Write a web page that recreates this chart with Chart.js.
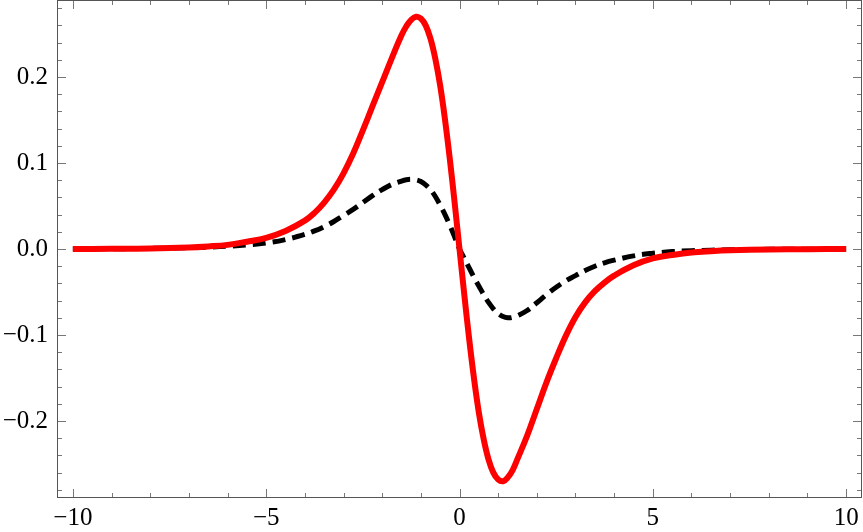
<!DOCTYPE html>
<html>
<head>
<meta charset="utf-8">
<script src="https://cdn.jsdelivr.net/npm/chart.js@4/dist/chart.umd.min.js"></script>
<style>
  html, body { margin: 0; padding: 0; background: #ffffff; }
  #wrap { width: 863px; height: 532px; }
</style>
</head>
<body>
<div id="wrap"><canvas id="c" width="863" height="532"></canvas></div>
<script>
// ---- data ----
const xValues = [-10,-9,-8,-7,-6.5,-6,-5.5,-5,-4.5,-4,
  -3.75,-3.5,-3.25,-3,-2.75,-2.5,-2.25,-2,-1.75,
  -1.5,-1.375,-1.25,-1.125,-1,-0.875,-0.75,-0.625,-0.5,-0.375,-0.25,-0.125,
  0,
  0.125,0.25,0.375,0.5,0.625,0.75,0.875,1,1.125,1.25,1.375,1.5,
  1.75,2,2.25,2.5,2.75,3,3.25,3.5,3.75,
  4,4.5,5,5.5,6,6.5,7,8,9,10];
const redValues = [0.0001,0.0002,0.0006,0.0018,0.003,0.0048,0.0085,0.013,0.021,0.033,
  0.042,0.054,0.069,0.088,0.111,0.138,0.166,0.194,0.222,
  0.2485,0.259,0.2665,0.270,0.268,0.260,0.2445,0.221,0.19,0.1505,0.1045,0.0535,
  0,
  -0.0535,-0.1045,-0.1505,-0.19,-0.221,-0.2445,-0.26,-0.268,-0.270,-0.2655,-0.257,-0.244,
  -0.217,-0.186,-0.155,-0.127,-0.101,-0.079,-0.062,-0.049,-0.039,
  -0.031,-0.019,-0.011,-0.007,-0.004,-0.0025,-0.0015,-0.0005,-0.0002,-0.0001];
const blackValues = [0.0001,0.0003,0.0007,0.0015,0.0022,0.0032,0.0047,0.007,0.011,0.017,
  0.021,0.026,0.032,0.039,0.046,0.054,0.062,0.069,0.075,
  0.079,0.0805,0.081,0.0805,0.0785,0.0745,0.069,0.061,0.051,0.04,0.0275,0.014,
  0,
  -0.011,-0.022,-0.033,-0.043,-0.053,-0.062,-0.0695,-0.075,-0.0785,-0.0800,-0.0795,-0.0775,
  -0.0715,-0.0625,-0.053,-0.0445,-0.037,-0.031,-0.025,-0.02,-0.016,
  -0.013,-0.008,-0.005,-0.003,-0.002,-0.0014,-0.001,-0.0004,-0.0002,-0.0001];

const xTickValues = [-10, -5, 0, 5, 10];
const xTickLabels = ['\u221210', '\u22125', '0', '5', '10'];
const yTickValues = [-0.2, -0.1, 0, 0.1, 0.2];
const yTickLabels = ['\u22120.2', '\u22120.1', '0.0', '0.1', '0.2'];
const xRange = [-10.41, 10.41];
const yRange = [-0.2895, 0.2895];

function pts(xs, ys) { return xs.map((x, i) => ({ x: x, y: ys[i] })); }

// frame + inward ticks on all four sides, positioned through the chart scales
const framePlugin = {
  id: 'frameTicks',
  afterDatasetsDraw(chart) {
    const ctx = chart.ctx;
    const a = chart.chartArea;
    const xs = chart.scales.x, ys = chart.scales.y;
    ctx.save();
    ctx.strokeStyle = '#777777';
    ctx.lineWidth = 1;
    ctx.beginPath();
    for (let v = -10; v <= 10; v++) {
      const p = Math.round(xs.getPixelForValue(v)) + 0.5;
      const len = (v % 5 === 0) ? 9 : 5;
      ctx.moveTo(p, a.bottom); ctx.lineTo(p, a.bottom - len);
      ctx.moveTo(p, a.top); ctx.lineTo(p, a.top + len);
    }
    for (let k = -14; k <= 14; k++) {
      const p = Math.round(ys.getPixelForValue(k * 0.02)) + 0.5;
      const len = (k % 5 === 0) ? 9 : 5;
      ctx.moveTo(a.left, p); ctx.lineTo(a.left + len, p);
      ctx.moveTo(a.right, p); ctx.lineTo(a.right - len, p);
    }
    ctx.stroke();
    ctx.strokeStyle = '#555555';
    ctx.strokeRect(Math.round(a.left) + 0.5, Math.round(a.top) + 0.5,
                   Math.round(a.right - a.left) - 1, Math.round(a.bottom - a.top) - 1);
    ctx.restore();
  }
};

const tickFont = { family: "'Liberation Serif', 'Times New Roman', serif", size: 25 };

new Chart(document.getElementById('c'), {
  type: 'line',
  data: {
    datasets: [
      {
        data: pts(xValues, redValues),
        borderColor: '#ff0000',
        borderWidth: 6,
        pointRadius: 0,
        fill: false,
        tension: 0.4
      },
      {
        data: pts(xValues, blackValues),
        borderColor: '#000000',
        borderWidth: 5,
        borderDash: [13, 7],
        pointRadius: 0,
        fill: false,
        tension: 0.4
      }
    ]
  },
  options: {
    responsive: false,
    animation: false,
    events: [],
    layout: { padding: { top: 0, right: 1, left: 0, bottom: 0 } },
    plugins: { legend: { display: false }, tooltip: { enabled: false } },
    scales: {
      x: {
        type: 'linear',
        min: xRange[0], max: xRange[1],
        grid: { display: false, drawTicks: false },
        border: { display: false },
        afterBuildTicks(scale) { scale.ticks = xTickValues.map(v => ({ value: v })); },
        afterFit(scale) { scale.height = 34; scale.paddingLeft = 0; scale.paddingRight = 0; },
        ticks: {
          font: tickFont, color: '#000000', padding: 5, maxRotation: 0, autoSkip: false,
          callback: (v) => { const i = xTickValues.indexOf(v); return i >= 0 ? xTickLabels[i] : ''; }
        }
      },
      y: {
        type: 'linear',
        min: yRange[0], max: yRange[1],
        grid: { display: false, drawTicks: false },
        border: { display: false },
        afterBuildTicks(scale) { scale.ticks = yTickValues.map(v => ({ value: v })); },
        afterFit(scale) { scale.width = 57; scale.paddingTop = 0; scale.paddingBottom = 0; },
        ticks: {
          font: tickFont, color: '#000000', padding: 9, autoSkip: false,
          callback: (v) => { const i = yTickValues.findIndex(t => Math.abs(t - v) < 1e-9); return i >= 0 ? yTickLabels[i] : ''; }
        }
      }
    }
  },
  plugins: [framePlugin]
});
</script>
</body>
</html>
